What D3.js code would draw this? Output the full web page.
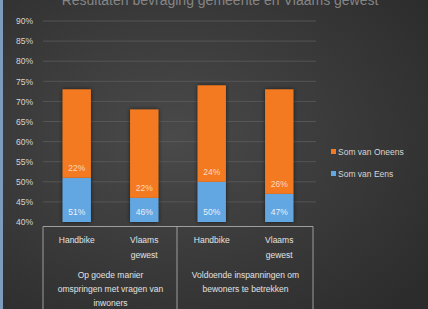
<!DOCTYPE html>
<html>
<head>
<meta charset="utf-8">
<script src="https://cdn.jsdelivr.net/npm/d3@7"></script>
<style>
  html, body { margin: 0; padding: 0; background: #333; overflow: hidden; }
  svg { display: block; font-family: "Liberation Sans", Arial, sans-serif; }
</style>
</head>
<body>
<svg id="chart" width="428" height="309"></svg>
<script>
// Values
const categories = ["Handbike", "Vlaams gewest", "Handbike", "Vlaams gewest"]
const groupLines = [["Op goede manier", "omspringen met vragen van", "inwoners"], ["Voldoende inspanningen om", "bewoners te betrekken"]]
const eens = [0.51, 0.46, 0.50, 0.47]
const oneens = [0.22, 0.22, 0.24, 0.26]
const yTicks = [0.40, 0.45, 0.50, 0.55, 0.60, 0.65, 0.70, 0.75, 0.80, 0.85, 0.90]
const seriesNames = ["Som van Oneens", "Som van Eens"]

const W = 428, H = 309
const orange = "#f47a20"
const blue = "#62a6e2"
const textCol = "#d6d6d6"
const fs = 8.5

const svg = d3.select("#chart")

// background
const defs = svg.append("defs")
const grad = defs.append("radialGradient").attr("id", "bg")
  .attr("cx", "40%").attr("cy", "45%").attr("r", "75%")
grad.append("stop").attr("offset", "0%").attr("stop-color", "#4a4a4a")
grad.append("stop").attr("offset", "100%").attr("stop-color", "#2c2c2c")
svg.append("rect").attr("width", W).attr("height", H).attr("fill", "url(#bg)")
svg.append("rect").attr("width", 3).attr("height", H).attr("fill", "#7d9cbd")

const shadow = defs.append("filter").attr("id", "shadow")
  .attr("x", "-40%").attr("y", "-10%").attr("width", "180%").attr("height", "120%")
shadow.append("feDropShadow").attr("dx", 0).attr("dy", 0).attr("stdDeviation", 2)
  .attr("flood-color", "#000").attr("flood-opacity", 0.6)

// title, cut off at the top as in the reference
svg.append("text").attr("x", 220).attr("y", 5).attr("text-anchor", "middle")
  .attr("font-size", 14).attr("fill", "#858585")
  .text("Resultaten bevraging gemeente en Vlaams gewest")

const x = d3.scaleBand().domain(d3.range(categories.length)).range([43, 313]).paddingInner(0.58).paddingOuter(0.29)
const y = d3.scaleLinear().domain([0.40, 0.90]).range([222, 21])

// gridlines
svg.append("g").selectAll("line").data(yTicks.slice(1)).join("line")
  .attr("x1", 43).attr("x2", 316)
  .attr("y1", d => y(d)).attr("y2", d => y(d))
  .attr("stroke", "#5c5c5c").attr("stroke-width", 0.8)

// y axis
const yAxis = svg.append("g").attr("transform", "translate(33,0)")
  .call(d3.axisLeft(y).tickValues(yTicks).tickFormat(d3.format(".0%")).tickSize(0).tickPadding(0))
yAxis.select(".domain").remove()
yAxis.selectAll("text").attr("fill", textCol).attr("font-size", fs)

// bars
const bars = svg.append("g")
const stacks = bars.append("g").attr("filter", "url(#shadow)")
stacks.selectAll("rect.eens").data(eens).join("rect").attr("class", "eens")
  .attr("x", (d, i) => x(i)).attr("width", x.bandwidth())
  .attr("y", d => y(d)).attr("height", d => y(0.40) - y(d))
  .attr("fill", blue)
stacks.selectAll("rect.oneens").data(oneens).join("rect").attr("class", "oneens")
  .attr("x", (d, i) => x(i)).attr("width", x.bandwidth())
  .attr("y", (d, i) => y(eens[i] + d)).attr("height", (d, i) => y(eens[i]) - y(eens[i] + d))
  .attr("fill", orange)

const pct = d3.format(".0%")
bars.selectAll("text.eens").data(eens).join("text").attr("class", "eens")
  .attr("x", (d, i) => x(i) + x.bandwidth() / 2).attr("y", y(0.40) - 7)
  .attr("text-anchor", "middle").attr("font-size", fs).attr("fill", "#e8f1fb")
  .text(d => pct(d))
bars.selectAll("text.oneens").data(oneens).join("text").attr("class", "oneens")
  .attr("x", (d, i) => x(i) + x.bandwidth() / 2).attr("y", (d, i) => y(eens[i]) - 7)
  .attr("text-anchor", "middle").attr("font-size", fs).attr("fill", "#fbd9bf")
  .text(d => pct(d))

// category axis box
const axisG = svg.append("g").attr("stroke", "#b8b8b8").attr("stroke-width", 0.8)
axisG.append("line").attr("x1", 43).attr("x2", 313).attr("y1", 226.5).attr("y2", 226.5)
;[43, 177, 313].forEach(xx => {
  axisG.append("line").attr("x1", xx).attr("x2", xx).attr("y1", 226.5).attr("y2", H)
})

const catG = svg.append("g").attr("font-size", fs).attr("fill", "#e2e2e2").attr("text-anchor", "middle")
categories.forEach((c, i) => {
  c.split(" ").forEach((l, j) => {
    catG.append("text").attr("x", x(i) + x.bandwidth() / 2).attr("y", 243 + j * 15).text(l)
  })
})
groupLines.forEach((lines, g) => {
  const cx = (x(g * 2) + x(g * 2 + 1) + x.bandwidth()) / 2
  lines.forEach((l, j) => {
    catG.append("text").attr("x", cx).attr("y", 278 + j * 14).text(l)
  })
})

// legend
const leg = svg.append("g").attr("transform", "translate(331,152)")
seriesNames.forEach((s, i) => {
  const row = leg.append("g").attr("transform", `translate(0,${i * 22})`)
  row.append("rect").attr("x", 0).attr("y", -3).attr("width", 5).attr("height", 5)
    .attr("fill", i === 0 ? orange : blue)
  row.append("text").attr("x", 7).attr("y", 3).attr("font-size", fs).attr("fill", textCol).text(s)
})
</script>
</body>
</html>
